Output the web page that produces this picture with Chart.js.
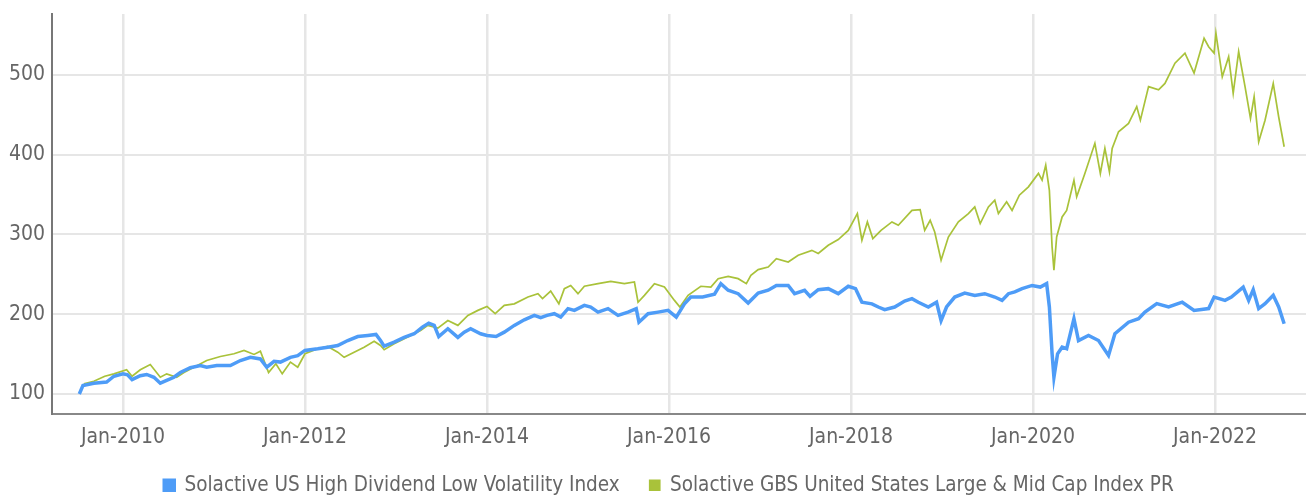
<!DOCTYPE html>
<html>
<head>
<meta charset="utf-8">
<script src="https://cdn.jsdelivr.net/npm/chart.js@4.4.1/dist/chart.umd.min.js"></script>
<style>
  html, body { margin: 0; padding: 0; background: #fff; }
  #wrap { width: 1306px; height: 498px; }
</style>
</head>
<body>
<div id="wrap"><canvas id="indexChart"></canvas></div>
<script>
// dates as decimal years
const blueDates = [2009.52, 2009.56, 2009.68, 2009.82, 2009.90, 2010.00, 2010.05, 2010.10, 2010.19, 2010.26,
  2010.34, 2010.41, 2010.48, 2010.56, 2010.63, 2010.74, 2010.85, 2010.92, 2011.03, 2011.18,
  2011.29, 2011.40, 2011.51, 2011.58, 2011.66, 2011.73, 2011.84, 2011.92, 2012.00, 2012.14,
  2012.25, 2012.36, 2012.47, 2012.58, 2012.69, 2012.78, 2012.83, 2012.87, 2012.98, 2013.09,
  2013.20, 2013.29, 2013.36, 2013.42, 2013.47, 2013.57, 2013.68, 2013.75, 2013.82, 2013.93,
  2014.00, 2014.10, 2014.19, 2014.30, 2014.41, 2014.52, 2014.59, 2014.66, 2014.74, 2014.81,
  2014.89, 2014.96, 2015.07, 2015.14, 2015.22, 2015.33, 2015.44, 2015.55, 2015.64, 2015.67,
  2015.77, 2015.88, 2015.99, 2016.08, 2016.17, 2016.24, 2016.37, 2016.50, 2016.57, 2016.65,
  2016.76, 2016.87, 2016.98, 2017.09, 2017.18, 2017.31, 2017.38, 2017.49, 2017.55, 2017.64,
  2017.75, 2017.86, 2017.97, 2018.05, 2018.12, 2018.23, 2018.30, 2018.37, 2018.48, 2018.59,
  2018.67, 2018.74, 2018.85, 2018.94, 2018.99, 2019.05, 2019.14, 2019.25, 2019.36, 2019.47,
  2019.58, 2019.66, 2019.73, 2019.80, 2019.88, 2019.99, 2020.08, 2020.15, 2020.18, 2020.21,
  2020.23, 2020.27, 2020.32, 2020.37, 2020.45, 2020.50, 2020.61, 2020.72, 2020.83, 2020.90,
  2021.05, 2021.16, 2021.23, 2021.36, 2021.49, 2021.64, 2021.77, 2021.93, 2021.99, 2022.11,
  2022.18, 2022.31, 2022.37, 2022.42, 2022.48, 2022.55, 2022.64, 2022.70, 2022.76];
const blueValues = [100, 110.7, 113.5, 115, 122.3, 125.3, 124, 118, 123, 124.5,
  121, 113.6, 117, 121, 127, 133, 135.8, 133.6, 135.8, 135.8,
  142, 146, 144, 133.6, 141, 140, 146, 148, 154.6, 156.7,
  158.7, 160.8, 167, 172, 173.4, 174.6, 167, 160, 165, 171,
  175.5, 183.8, 188.8, 186, 172, 181.8, 171, 177.5, 181.8, 175.5,
  173.4, 172, 177.5, 186, 193, 198.5, 195.6, 198.5, 200.6, 196.4,
  207, 204.8, 211, 209, 202.6, 207, 198.5, 202.6, 207, 190,
  200.6, 202.6, 204.8, 196.4, 213, 221.5, 221.5, 225, 238.3, 230,
  225.7, 214, 226.5, 230, 236, 236, 225.7, 230, 222.3, 230.7,
  232, 225.7, 235, 232, 215, 213, 209, 205.6, 209, 216.5,
  219.5, 215, 209, 215, 192, 209, 221.5, 226.5, 223.6, 225.7,
  221.5, 217.3, 225.7, 228, 232, 236, 234, 238.3, 209, 150.4,
  121, 150.4, 158.7, 156.7, 194.4, 167, 173.4, 167, 148.3, 175.5,
  190, 194.4, 202.6, 213.2, 209, 215, 204.8, 207, 221.5, 217.3,
  221.5, 234, 217.3, 230.7, 207, 213.2, 223.6, 209, 188];

const greenDates = [2009.57, 2009.68, 2009.80, 2009.90, 2010.04, 2010.10, 2010.19, 2010.30, 2010.41, 2010.48,
  2010.59, 2010.67, 2010.78, 2010.92, 2011.07, 2011.22, 2011.33, 2011.44, 2011.51, 2011.60,
  2011.68, 2011.75, 2011.84, 2011.92, 2012.00, 2012.14, 2012.25, 2012.36, 2012.43, 2012.54,
  2012.65, 2012.76, 2012.83, 2012.87, 2012.98, 2013.13, 2013.27, 2013.35, 2013.46, 2013.57,
  2013.68, 2013.79, 2013.90, 2014.00, 2014.09, 2014.19, 2014.30, 2014.45, 2014.56, 2014.61,
  2014.70, 2014.79, 2014.85, 2014.92, 2015.00, 2015.07, 2015.22, 2015.36, 2015.51, 2015.62,
  2015.66, 2015.73, 2015.84, 2015.95, 2016.06, 2016.12, 2016.21, 2016.35, 2016.46, 2016.54,
  2016.65, 2016.76, 2016.85, 2016.90, 2016.98, 2017.09, 2017.18, 2017.31, 2017.42, 2017.57,
  2017.64, 2017.75, 2017.86, 2017.97, 2018.07, 2018.12, 2018.18, 2018.24, 2018.33, 2018.45,
  2018.52, 2018.67, 2018.76, 2018.81, 2018.87, 2018.92, 2018.99, 2019.07, 2019.18, 2019.29,
  2019.36, 2019.42, 2019.51, 2019.58, 2019.62, 2019.71, 2019.77, 2019.85, 2019.95, 2020.06,
  2020.10, 2020.14, 2020.18, 2020.21, 2020.23, 2020.26, 2020.32, 2020.37, 2020.45, 2020.48,
  2020.57, 2020.68, 2020.74, 2020.79, 2020.84, 2020.87, 2020.94, 2021.05, 2021.14, 2021.18,
  2021.27, 2021.38, 2021.45, 2021.56, 2021.67, 2021.77, 2021.88, 2021.93, 2021.99, 2022.01,
  2022.08, 2022.15, 2022.20, 2022.26, 2022.33, 2022.39, 2022.43, 2022.48, 2022.55, 2022.64,
  2022.70, 2022.76];
const greenValues = [112.8, 116, 122.3, 125.3, 130.4, 122.3, 130.4, 137, 121, 125.3,
  121, 127, 133.6, 142, 147, 150.4, 154.6, 149.6, 153.7, 127,
  137.9, 125.3, 140, 133.6, 150.4, 156.7, 159.6, 152.4, 146, 152.4,
  158.7, 166, 160.8, 155.5, 163, 171.3, 179.7, 186, 182.6, 192,
  186, 198.5, 204.8, 209.8, 200.6, 211, 213, 221.5, 225.7, 219.5,
  229, 213, 232, 236, 225.7, 235, 238.3, 241, 238.3, 240.3,
  215, 223.6, 238.3, 234, 217.3, 209, 223.6, 235, 234, 244.5,
  247.4, 244.5, 238.3, 248.7, 255.8, 259, 269.6, 265.4, 273.8, 280,
  276, 286.3, 293.5, 305, 326, 292.6, 315.6, 294.7, 305, 315.6,
  311.4, 330, 331, 305, 317.7, 303, 267.5, 296.7, 315.6, 326,
  334.4, 313.5, 334.4, 342.8, 326, 340.7, 330, 349, 359.5, 376.3,
  368, 386.7, 355, 284, 255, 296.7, 321.8, 330, 367.8, 347,
  376.3, 414, 376.3, 407.7, 378.3, 407.7, 428.5, 439, 460, 443,
  485, 481, 489, 514.4, 527, 502, 545.6, 535, 527, 552,
  497.5, 522.6, 476.6, 529, 485, 445.3, 472.4, 416, 443, 489,
  447, 409.7];

const yTicks = [100, 200, 300, 400, 500];
const xTicks = [2010, 2012, 2014, 2016, 2018, 2020, 2022];

const toPoints = (dates, values) => dates.map((d, i) => ({ x: d, y: values[i] }));

Chart.defaults.font.family = "'Liberation Sans Narrow', 'DejaVu Sans Condensed', sans-serif";
Chart.defaults.font.size = 21;
Chart.defaults.color = "#666";

// legend gets a fixed height, and sits a bit right of centre like in the picture
const legendPlace = {
  id: "legendPlace",
  beforeInit(chart) {
    const legend = chart.legend;
    const fit = legend.fit;
    legend.fit = function () {
      fit.call(this);
      this.height = 43;
    };
  },
  afterLayout(chart) {
    const lg = chart.legend;
    lg.left += 16;
    lg.right += 16;
    lg.top -= 10; // pull the row up, keep the bottom so nothing is clipped
  },
};

const ctx = document.getElementById("indexChart").getContext("2d");
new Chart(ctx, {
  type: "line",
  data: {
    datasets: [
      {
        label: "Solactive US High Dividend Low Volatility Index",
        data: toPoints(blueDates, blueValues),
        borderColor: "#4e9cf7",
        backgroundColor: "#4e9cf7",
        borderWidth: 3.5,
        pointRadius: 0,
        tension: 0,
      },
      {
        label: "Solactive GBS United States Large & Mid Cap Index PR",
        data: toPoints(greenDates, greenValues),
        borderColor: "#a9c23a",
        backgroundColor: "#a9c23a",
        borderWidth: 1.7,
        pointRadius: 0,
        tension: 0,
      },
    ],
  },
  options: {
    responsive: true,
    maintainAspectRatio: false,
    animation: false,
    layout: { padding: { top: 14, right: 0, left: 0, bottom: 0 } },
    scales: {
      x: {
        type: "linear",
        min: 2009.22,
        max: 2023.0,
        afterBuildTicks: (scale) => {
          scale.ticks = xTicks.map((v) => ({ value: v }));
        },
        afterFit: (scale) => {
          scale.height = 41;
          scale.paddingLeft = 0;
          scale.paddingRight = 0;
        },
        ticks: {
          padding: 11,
          maxRotation: 0,
          callback: (v) => "Jan-" + v,
        },
        grid: { color: "#e6e6e6", lineWidth: 2.5, drawTicks: false },
        border: { color: "#888", width: 2 },
      },
      y: {
        min: 75,
        max: 576,
        afterBuildTicks: (scale) => {
          scale.ticks = yTicks.map((v) => ({ value: v }));
        },
        afterFit: (scale) => {
          scale.width = 52;
          scale.paddingTop = 0;
          scale.paddingBottom = 0;
        },
        ticks: { padding: 7 },
        grid: { color: "#e6e6e6", lineWidth: 2, drawTicks: false },
        border: { color: "#777", width: 2 },
      },
    },
    plugins: {
      tooltip: { enabled: false },
      legend: {
        position: "bottom",
        labels: {
          boxWidth: 10,
          boxHeight: 10,
          padding: 30,
          font: { size: 20.5 },
        },
      },
    },
  },
  plugins: [legendPlace],
});
</script>
</body>
</html>
